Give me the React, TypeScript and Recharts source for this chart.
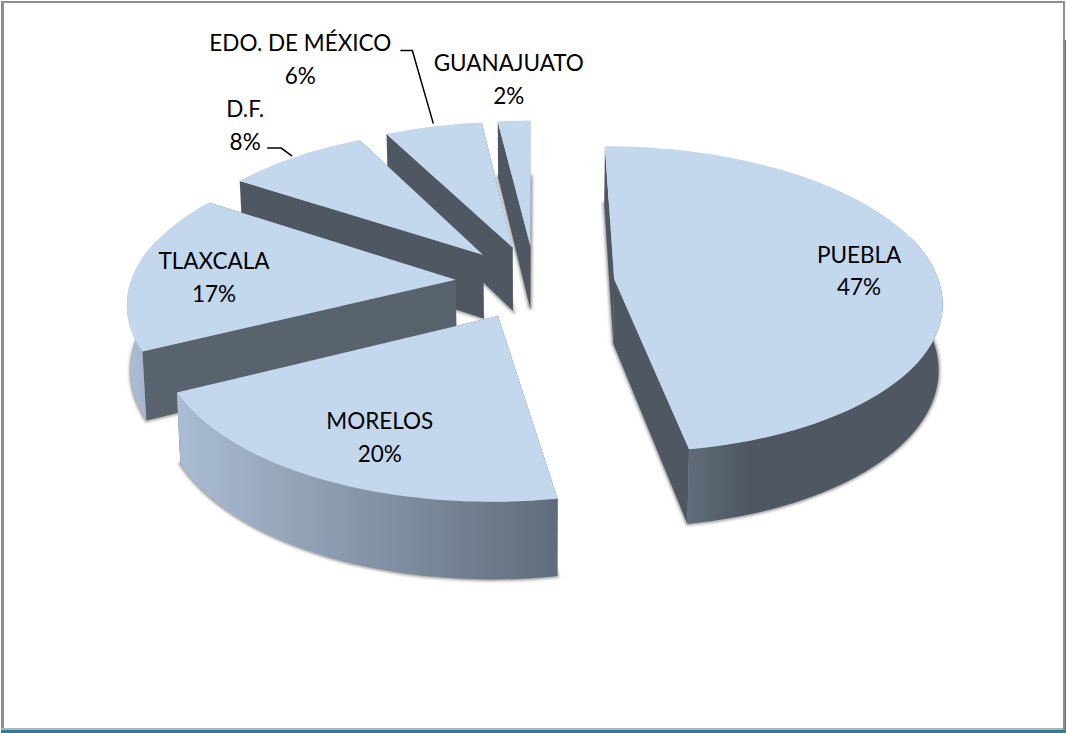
import { Pie, PieChart } from "recharts";

const categories = ["PUEBLA", "MORELOS", "TLAXCALA", "D.F.", "EDO. DE MÉXICO", "GUANAJUATO"];
// estimated from the slice edges, the labels show them rounded
const percents = [47.3, 20.3, 16.7, 8.2, 5.6, 1.9];

// painted back to front, so the front slices have to come last
const tableData = categories
  .map((name, i) => ({ name, value: percents[i] }))
  .reverse();

// fake 3D camera
const SQUASH = 0.465;
const PERSPECTIVE = 0.133;
const DEPTH = 65;
const EXPLODE = 0.245;
const BOTTOM_SCALE = 0.99;

const TOP_COLOR = "#C3D7ED";
const DARK_COLOR = "#4F5862";

const rimGradients: Record<string, [string, string]> = {
  PUEBLA: ["#606C7A", DARK_COLOR],
  MORELOS: ["#ABBDD5", "#5F6C7A"],
  TLAXCALA: ["#AEBFD7", "#9DAFC6"],
};

const cutColors: Record<string, string> = {
  TLAXCALA: "#59636E",
};

// label text centre and leader line, relative to the middle of the slice's rim
const labelOffsets: Record<string, [number, number]> = {
  PUEBLA: [-73.5, 4.5],
  MORELOS: [59, -42],
  TLAXCALA: [79, 6.5],
  "D.F.": [-50, -32],
  "EDO. DE MÉXICO": [-133, -67.5],
  GUANAJUATO: [-5.5, -41.5],
};

const leaderOffsets: Record<string, [number, number][]> = {
  "D.F.": [[-3, -1], [-14, -9], [-28, -9]],
  "EDO. DE MÉXICO": [[0, -3], [-21, -76], [-33, -76]],
};

const rad = (deg: number) => (deg * Math.PI) / 180;

function project(cx: number, cy: number, r: number, X: number, Y: number) {
  const s = 1 / (1 + PERSPECTIVE * Y);
  return { x: cx + X * r * s, y: cy - Y * r * SQUASH * s, s };
}

function lower(cx: number, p: { x: number; y: number; s: number }) {
  return { x: cx + (p.x - cx) * BOTTOM_SCALE, y: p.y + DEPTH * p.s, s: p.s };
}

const toPath = (pts: { x: number; y: number }[]) =>
  "M" + pts.map((p) => `${p.x.toFixed(1)},${p.y.toFixed(1)}`).join("L") + "Z";

function rimMiddle(cx: number, cy: number, r: number, mid: number) {
  const X = Math.cos(rad(mid)) * (1 + EXPLODE);
  const Y = Math.sin(rad(mid)) * (1 + EXPLODE);
  return project(cx, cy, r, X, Y);
}

function Slice3D(props: any) {
  const { cx, cy, outerRadius, startAngle, endAngle, name } = props;
  const mid = (startAngle + endAngle) / 2;
  const ox = Math.cos(rad(mid)) * EXPLODE;
  const oy = Math.sin(rad(mid)) * EXPLODE;

  const apex = project(cx, cy, outerRadius, ox, oy);
  const arc = [];
  const frontArc = [];
  const steps = Math.max(2, Math.ceil(Math.abs(endAngle - startAngle) / 2));
  for (let i = 0; i <= steps; i++) {
    const a = startAngle + ((endAngle - startAngle) * i) / steps;
    const p = project(cx, cy, outerRadius, Math.cos(rad(a)) + ox, Math.sin(rad(a)) + oy);
    arc.push(p);
    // the back part of the rim is never seen
    if (Math.sin(rad(a)) < 0.3) frontArc.push(p);
  }
  const apexLow = lower(cx, apex);
  const arcLow = arc.map((p) => lower(cx, p));
  const frontLow = frontArc.map((p) => lower(cx, p));
  const first = arc[0];
  const last = arc[arc.length - 1];

  const id = name.replace(/[^A-Z]/g, "");
  const stops = rimGradients[name] ?? [DARK_COLOR, DARK_COLOR];
  const xs = frontArc.map((p) => p.x);
  const cut = cutColors[name] ?? DARK_COLOR;
  const gradStart = xs.length ? Math.min(...xs) : 0;
  const gradEnd = name === "PUEBLA" ? gradStart + 58 : xs.length ? Math.max(...xs) : 1;

  return (
    <g>
      <defs>
        <linearGradient
          id={`rim${id}`}
          gradientUnits="userSpaceOnUse"
          x1={gradStart}
          x2={gradEnd}
          y1={0}
          y2={0}
        >
          <stop offset="0" stopColor={stops[0]} />
          <stop offset="1" stopColor={stops[1]} />
        </linearGradient>
        <filter id={`shadow${id}`} x="-10%" y="-10%" width="120%" height="120%">
          <feGaussianBlur stdDeviation="1.6" />
        </filter>
      </defs>
      <path
        d={toPath([apexLow, ...arcLow])}
        fill="#777"
        stroke="#777"
        strokeWidth={3}
        opacity={0.75}
        filter={`url(#shadow${id})`}
      />
      <path d={toPath([apex, first, lower(cx, first), apexLow])} fill={cut} />
      <path d={toPath([apex, last, lower(cx, last), apexLow])} fill={cut} />
      {frontArc.length > 1 && (
        <path d={toPath([...frontArc, ...[...frontLow].reverse()])} fill={`url(#rim${id})`} />
      )}
      <path d={toPath([apex, ...arc])} fill={TOP_COLOR} />
    </g>
  );
}

function SliceLabel(props: any) {
  const { cx, cy, outerRadius, midAngle, name, value } = props;
  const rim = rimMiddle(cx, cy, outerRadius, midAngle);
  const [dx, dy] = labelOffsets[name];
  const leader = leaderOffsets[name];
  const x = rim.x + dx;
  const y = rim.y + dy;
  return (
    <g>
      {leader && (
        <polyline
          points={leader.map(([a, b]) => `${rim.x + a},${rim.y + b}`).join(" ")}
          fill="none"
          stroke="#000"
          strokeWidth={1.5}
        />
      )}
      <text
        x={x}
        y={y}
        textAnchor="middle"
        fontFamily="Lato, sans-serif"
        fontSize={22.5}
        fill="#000"
      >
        <tspan x={x} dy={-8}>
          {name}
        </tspan>
        <tspan x={x} dy={32.5}>
          {Math.round(value)}%
        </tspan>
      </text>
    </g>
  );
}

const bar = (left: number, top: number, width: number, height: number, background: string) => (
  <div style={{ position: "absolute", left, top, width, height, background }} />
);

export default function App() {
  return (
    <div style={{ position: "absolute", left: 0, top: 0, width: 1066, height: 733, background: "#fff", overflow: "hidden" }}>
      {bar(1, 1, 1064, 2, "#8E8E8E")}
      {bar(1, 1, 3, 729, "#8E8E8E")}
      {bar(1, 728, 1064, 2, "#B4B4B4")}
      {bar(1063, 1, 2, 729, "#8E8E8E")}
      {bar(1, 730, 1065, 3, "#2E7F96")}
      {bar(1065, 40, 1, 693, "#2E7F96")}
      <div style={{ position: "absolute", left: 0, top: 0 }}>
        <PieChart width={1066} height={733} margin={{ top: 0, right: 0, bottom: 0, left: 0 }}>
          <Pie
            data={tableData}
            dataKey="value"
            nameKey="name"
            cx={535}
            cy={282}
            innerRadius={0}
            outerRadius={325}
            startAngle={90}
            endAngle={450}
            stroke="none"
            isAnimationActive={false}
            shape={Slice3D}
            label={SliceLabel}
            labelLine={false}
          />
        </PieChart>
      </div>
    </div>
  );
}
